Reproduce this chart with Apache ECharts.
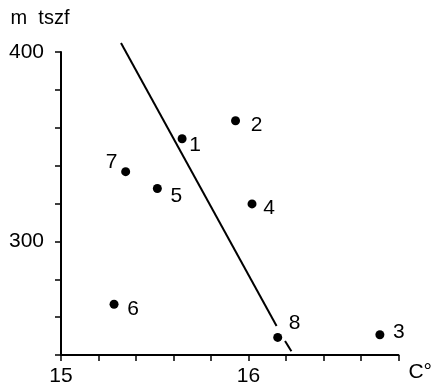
<!DOCTYPE html>
<html>
<head>
<meta charset="utf-8">
<script src="https://cdn.jsdelivr.net/npm/echarts@6/dist/echarts.min.js"></script>
<style>
  html, body { margin: 0; background: #fff; }
  #chart { width: 435px; height: 387px; }
</style>
</head>
<body>
<div id="chart"></div>
<script>
// mérőállomások: hőmérséklet (C°) és tengerszint feletti magasság (m tszf)
const stations = ['1', '2', '3', '4', '5', '6', '7', '8']
const temps = [15.646, 15.931, 16.701, 16.019, 15.514, 15.283, 15.345, 16.156]
const heights = [354.2, 363.7, 250.7, 319.8, 327.9, 266.8, 336.8, 249.3]
// regressziós egyenes: folytonos rész + rövid szakasz a 8-as pont alatt
const trendX = [15.32, 16.15]
const trendY = [404.7, 255.3]
const tailX = [16.195, 16.229]
const tailY = [247.4, 242]
const xTickLabels = [15, 16]
const yTickLabels = [300, 400]

// cimke eltolások (px)
const labelOffset = {
  1: [13, 6], 2: [21, 4], 3: [19, -3], 4: [17, 4],
  5: [19, 8], 6: [19, 5], 7: [-14, -9], 8: [17, -14],
}

const font = 'Liberation Sans, Arial, sans-serif'
const ink = '#000'

const myChart = echarts.init(document.getElementById('chart'))
myChart.setOption({
  animation: false,
  grid: { left: 61, right: 34, top: 52, bottom: 31 },
  xAxis: {
    type: 'value',
    min: 15,
    max: 16.8,
    interval: 0.2,
    name: 'C°',
    nameLocation: 'end',
    nameGap: 10,
    nameTextStyle: { color: ink, fontSize: 21, fontFamily: font, verticalAlign: 'top', padding: [7, 0, 0, 0] },
    axisLine: { lineStyle: { color: ink, width: 2 } },
    axisTick: { length: 6, lineStyle: { color: ink, width: 1.5 } },
    axisLabel: {
      color: ink, fontSize: 21, fontFamily: font, margin: 11,
      formatter: (v) => (xTickLabels.some((t) => Math.abs(t - v) < 1e-6) ? String(Math.round(v)) : ''),
    },
    splitLine: { show: false },
  },
  yAxis: {
    type: 'value',
    min: 240,
    max: 400,
    interval: 20,
    name: 'm  tszf',
    nameLocation: 'end',
    nameGap: 24,
    nameTextStyle: { color: ink, fontSize: 20, fontFamily: font, align: 'center', padding: [0, 42, 0, 0] },
    axisLine: { show: true, lineStyle: { color: ink, width: 2 } },
    axisTick: { show: true, length: 6, lineStyle: { color: ink, width: 1.5 } },
    axisLabel: {
      color: ink, fontSize: 21, fontFamily: font, margin: 17,
      formatter: (v) => (yTickLabels.includes(v) ? String(v) : ''),
    },
    splitLine: { show: false },
  },
  series: [
    {
      type: 'line',
      data: trendX.map((x, i) => [x, trendY[i]]),
      symbol: 'none',
      clip: false,
      lineStyle: { color: ink, width: 2 },
    },
    {
      type: 'line',
      data: tailX.map((x, i) => [x, tailY[i]]),
      symbol: 'none',
      clip: false,
      lineStyle: { color: ink, width: 2 },
    },
    {
      type: 'scatter',
      symbolSize: 9,
      itemStyle: { color: ink, opacity: 1 },
      data: stations.map((s, i) => ({
        value: [temps[i], heights[i]],
        name: s,
        label: {
          show: true,
          position: 'inside',
          offset: labelOffset[s],
          formatter: s,
          color: ink,
          fontSize: 21,
          fontFamily: font,
          textBorderWidth: 0,
        },
      })),
    },
  ],
})
</script>
</body>
</html>
